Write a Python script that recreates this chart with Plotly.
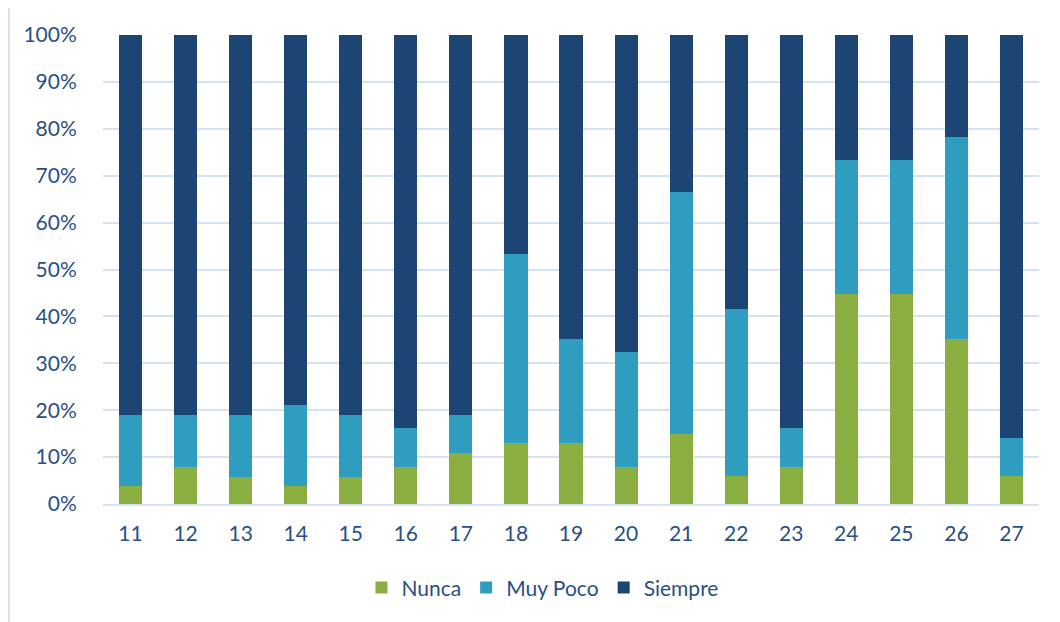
import plotly.graph_objects as go

categories = ["11", "12", "13", "14", "15", "16", "17", "18", "19", "20",
              "21", "22", "23", "24", "25", "26", "27"]
nunca = [3.8, 7.9, 5.8, 3.8, 5.8, 7.9, 10.9, 13.0, 13.0, 7.9,
         14.9, 6.0, 7.9, 44.8, 44.8, 35.2, 6.0]
muy_poco = [15.1, 11.0, 13.2, 17.4, 13.2, 8.3, 8.1, 40.3, 22.2, 24.5,
            51.6, 35.6, 8.3, 28.5, 28.5, 43.1, 8.1]
siempre = [81.1, 81.1, 81.0, 78.8, 81.0, 83.8, 81.0, 46.7, 64.8, 67.6,
           33.5, 58.4, 83.8, 26.7, 26.7, 21.7, 85.9]

series = [
    ("Nunca", nunca, "#8BAE41"),
    ("Muy Poco", muy_poco, "#2E9DC0"),
    ("Siempre", siempre, "#1C4573"),
]

text_color = "#2A4F86"
grid_color = "#D6E2F1"
font_family = "Lato, 'Open Sans', sans-serif"

fig = go.Figure()
for name, vals, color in series:
    fig.add_trace(go.Bar(
        x=categories,
        y=[v / 100 for v in vals],
        name=name,
        marker=dict(color=color, line=dict(width=0)),
        width=0.42,
    ))

fig.update_layout(
    width=1060,
    height=622,
    barmode="stack",
    plot_bgcolor="white",
    paper_bgcolor="white",
    margin=dict(l=95, r=29, t=27, b=126),
    font=dict(family=font_family, size=21, color=text_color),
    legend=dict(
        orientation="h",
        x=0.47, xanchor="center",
        y=-0.179, yanchor="middle",
        font=dict(size=21, color=text_color),
        itemwidth=30,
        traceorder="normal",
    ),
    xaxis=dict(
        type="category",
        showgrid=False,
        showline=True,
        linecolor=grid_color,
        linewidth=1.5,
        ticks="outside",
        ticklen=10,
        tickcolor="rgba(0,0,0,0)",
        tickfont=dict(size=21, color=text_color),
    ),
    yaxis=dict(
        range=[0, 1],
        tickvals=[i / 10 for i in range(11)],
        tickformat=".0%",
        showgrid=True,
        gridcolor=grid_color,
        gridwidth=1.5,
        zeroline=False,
        showline=False,
        ticks="outside",
        ticklen=21,
        tickcolor="rgba(0,0,0,0)",
        tickfont=dict(size=21, color=text_color),
    ),
    shapes=[
        dict(type="rect", xref="paper", yref="paper",
             x0=(9 - 103) / 936, x1=1.2, y0=-0.4, y1=(504 - 6) / 469,
             line=dict(color="#D6E2F1", width=2), fillcolor="rgba(0,0,0,0)",
             layer="below"),
    ],
)

fig.write_html("out.html")
